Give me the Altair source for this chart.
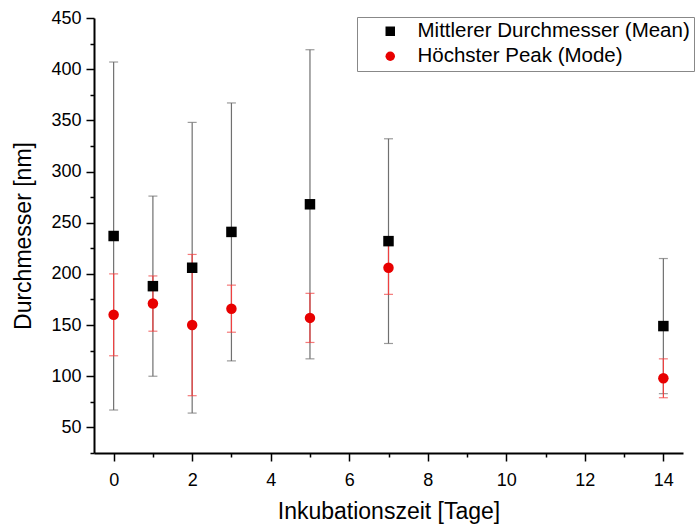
import altair as alt
import pandas as pd

days = [0, 1, 2, 3, 5, 7, 14]
mean_vals = [237, 188, 206, 241, 268, 232, 149]
mean_err = [170, 88, 142, 126, 151, 100, 66]
mode_vals = [160, 171, 150, 166, 157, 206, 98]
mode_err = [40, 27, 69, 23, 24, 26, 19]
series_names = ["Mittlerer Durchmesser (Mean)", "Höchster Peak (Mode)"]
x_tick_values = list(range(0, 15))
y_tick_values = list(range(25, 451, 25))

FONT = "Liberation Sans"

rows = []
for d, v, e in zip(days, mean_vals, mean_err):
    rows.append({"day": d, "value": v, "lo": v - e, "hi": v + e, "series": series_names[0]})
for d, v, e in zip(days, mode_vals, mode_err):
    rows.append({"day": d, "value": v, "lo": v - e, "hi": v + e, "series": series_names[1]})
df = pd.DataFrame(rows)

caps = []
for r in rows:
    caps.append({"day": r["day"], "cap": r["lo"], "series": r["series"]})
    caps.append({"day": r["day"], "cap": r["hi"], "series": r["series"]})
caps_df = pd.DataFrame(caps)

xscale = alt.Scale(domain=[-0.5, 14.5], nice=False, zero=False)
yscale = alt.Scale(domain=[25, 450], nice=False, zero=False)

xaxis = alt.Axis(
    values=x_tick_values,
    labelExpr="datum.value % 2 === 0 ? datum.label : ''",
    tickSize={"condition": {"test": "datum.value % 2 === 0", "value": 8}, "value": 4},
    grid=False, domainColor="black", domainWidth=2, tickColor="black", tickWidth=1.5,
    labelFont=FONT, labelFontSize=18, labelColor="black", labelPadding=10,
    labelOverlap=False, labelFlush=False,
    title="Inkubationszeit [Tage]", titleFont=FONT, titleFontSize=23,
    titleFontWeight="normal", titleColor="black", titlePadding=11,
)
yaxis = alt.Axis(
    values=y_tick_values,
    labelExpr="datum.value % 50 === 0 ? datum.label : ''",
    tickSize={"condition": {"test": "datum.value % 50 === 0", "value": 8}, "value": 4},
    grid=False, domainColor="black", domainWidth=2, tickColor="black", tickWidth=1.5,
    labelFont=FONT, labelFontSize=18, labelColor="black", labelPadding=5,
    labelOverlap=False, labelFlush=False,
    title="Durchmesser [nm]", titleFont=FONT, titleFontSize=23,
    titleFontWeight="normal", titleColor="black", titlePadding=15,
)

def xenc():
    return alt.X("day:Q", scale=xscale, axis=xaxis)

base = alt.Chart(df)
capbase = alt.Chart(caps_df)

colors = {series_names[0]: "#707070", series_names[1]: "#f04040"}
layers = []
for s in series_names:
    rule = base.transform_filter(alt.datum.series == s).mark_rule(
        color=colors[s], strokeWidth=1.2
    ).encode(
        x=xenc(),
        y=alt.Y("lo:Q", scale=yscale, axis=yaxis),
        y2="hi:Q",
    )
    cap = capbase.transform_filter(alt.datum.series == s).mark_tick(
        color=colors[s], orient="horizontal", size=9, thickness=1.2
    ).encode(
        x=xenc(),
        y=alt.Y("cap:Q", scale=yscale, axis=yaxis),
    )
    layers += [rule, cap]

legend = alt.Legend(
    orient="none", legendX=263, legendY=-1, title=None,
    strokeColor="#888888", fillColor="white", padding=4,
    symbolOffset=19, labelOffset=17, rowPadding=4,
    labelFont=FONT, labelFontSize=20.5, labelColor="black",
    symbolSize=90, symbolStrokeWidth=0, labelLimit=0,
)

points = base.mark_point(filled=True, opacity=1, size=110).encode(
    x=xenc(),
    y=alt.Y("value:Q", scale=yscale, axis=yaxis),
    shape=alt.Shape("series:N", scale=alt.Scale(domain=series_names, range=["square", "circle"]),
                    legend=legend),
    color=alt.Color("series:N", scale=alt.Scale(domain=series_names, range=["#000000", "#e80000"]),
                    legend=legend),
)
layers.append(points)

chart = alt.layer(*layers).properties(
    width=589, height=435,
    autosize=alt.AutoSizeParams(type="none"),
    padding={"left": 94, "top": 18, "right": 13, "bottom": 71},
    background="white",
).configure_view(stroke=None)

chart.save("out.html", embed_options={"renderer": "svg", "actions": False})
